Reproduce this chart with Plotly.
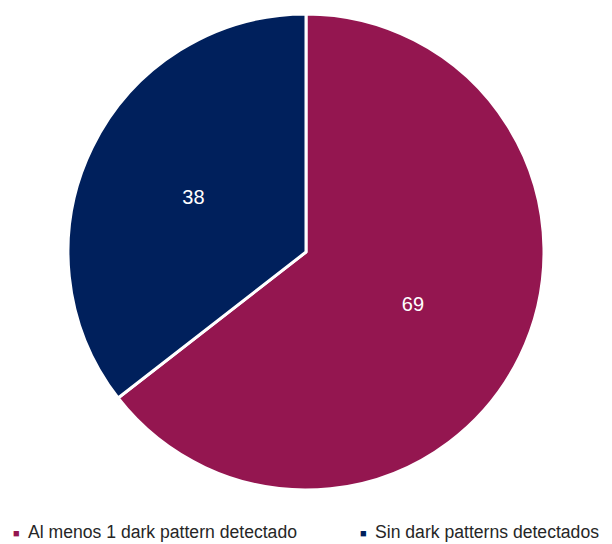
import plotly.graph_objects as go

categories = ["Al menos 1 dark pattern detectado", "Sin dark patterns detectados"]
values = [69, 38]
colors = ["#941650", "#00205C"]

FONT = "Liberation Sans, Arial, sans-serif"

W, H = 612, 544
L, R, T, B = 68, 68, 14, 54
PW, PH = W - L - R, H - T - B

def px_x(px):
    return (px - L) / PW

def px_y(py):
    return (H - B - py) / PH

fig = go.Figure(go.Pie(
    labels=categories,
    values=values,
    sort=False,
    direction="clockwise",
    rotation=0,
    marker=dict(colors=colors, line=dict(color="white", width=3)),
    textinfo="value",
    textposition="inside",
    insidetextorientation="horizontal",
    textfont=dict(color="white", size=20, family=FONT),
    hoverinfo="label+value",
    domain=dict(x=[0, 1], y=[0, 1]),
))

legend_x = [11, 358]
annotations = []
for i, (cat, col) in enumerate(zip(categories, colors)):
    annotations.append(dict(
        text="■", x=px_x(legend_x[i]), y=px_y(533), xref="paper", yref="paper",
        xanchor="left", yanchor="middle", showarrow=False,
        font=dict(size=11, color=col, family=FONT),
    ))
    annotations.append(dict(
        text=cat, x=px_x(legend_x[i] + 15), y=px_y(532), xref="paper", yref="paper",
        xanchor="left", yanchor="middle", showarrow=False,
        font=dict(size=17.6, color="#262626", family=FONT),
    ))

fig.update_layout(
    width=W, height=H,
    margin=dict(l=L, r=R, t=T, b=B, autoexpand=False),
    paper_bgcolor="white",
    plot_bgcolor="white",
    showlegend=False,
    annotations=annotations,
)

fig.write_html(
    "out.html",
    config={"displayModeBar": False},
    post_script="document.body.style.margin='0';document.body.style.overflow='hidden';",
)
